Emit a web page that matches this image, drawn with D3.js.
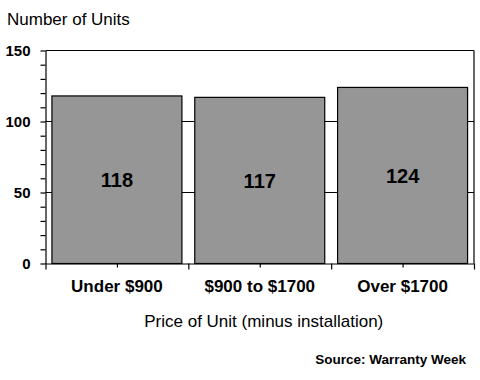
<!DOCTYPE html>
<html>
<head>
<meta charset="utf-8">
<script src="https://cdn.jsdelivr.net/npm/d3@7"></script>
<style>
  body { margin: 0; background: #fff; }
  svg { display: block; font-family: "Liberation Sans", Arial, sans-serif; }
  .tick line { stroke: #000; }
  .domain { stroke: #000; }
</style>
</head>
<body>
<svg width="480" height="380"></svg>
<script>
  // DATA
  const categories = ["Under $900", "$900 to $1700", "Over $1700"];
  const units = [118, 117, 124];
  const yTicks = [0, 50, 100, 150];
  const yMinorTicks = [10, 20, 30, 40, 60, 70, 80, 90, 110, 120, 130, 140];

  const svg = d3.select("svg");
  const margin = { top: 50.5, right: 6, bottom: 116.5, left: 45.5 };
  const width = +svg.attr("width");
  const height = +svg.attr("height");
  const innerWidth = width - margin.left - margin.right;
  const innerHeight = height - margin.top - margin.bottom;

  const g = svg.append("g")
    .attr("transform", `translate(${margin.left},${margin.top})`);

  // SCALES
  const xScale = d3.scaleBand()
    .domain(categories)
    .range([0, innerWidth])
    .paddingInner(0.09)
    .paddingOuter(0.045);

  const xEdge = d3.scaleLinear()
    .domain([0, categories.length])
    .range([0, innerWidth]);

  const yScale = d3.scaleLinear()
    .domain([0, 150])
    .range([innerHeight, 0]);

  // GRIDLINES + BORDER
  g.append("g")
    .selectAll("line")
    .data(yTicks.filter(d => d > 0))
    .join("line")
    .attr("x1", 0)
    .attr("x2", innerWidth)
    .attr("y1", d => Math.round(yScale(d)))
    .attr("y2", d => Math.round(yScale(d)))
    .attr("stroke", "#000")
    .attr("stroke-width", 1.2);

  g.append("line")
    .attr("x1", innerWidth).attr("x2", innerWidth)
    .attr("y1", 0).attr("y2", innerHeight)
    .attr("stroke", "#000")
    .attr("stroke-width", 1.2);

  // BARS
  g.selectAll("rect.bar")
    .data(units)
    .join("rect")
    .attr("class", "bar")
    .attr("x", (d, i) => xScale(categories[i]))
    .attr("y", d => yScale(d))
    .attr("width", xScale.bandwidth())
    .attr("height", d => innerHeight - yScale(d))
    .attr("fill", "#969696")
    .attr("stroke", "#000")
    .attr("stroke-width", 1.2);

  // VALUE LABELS
  g.selectAll("text.value")
    .data(units)
    .join("text")
    .attr("class", "value")
    .attr("x", (d, i) => xScale(categories[i]) + xScale.bandwidth() / 2)
    .attr("y", d => (yScale(d) + innerHeight) / 2)
    .attr("dy", "0.36em")
    .attr("text-anchor", "middle")
    .attr("font-size", 20)
    .attr("font-weight", "bold")
    .attr("fill", "#000")
    .text(d => d);

  // Y AXIS (minor ticks have no labels)
  const yMinorG = g.append("g")
    .call(d3.axisLeft(yScale).tickValues(yMinorTicks).tickSize(5));
  yMinorG.select(".domain").remove();
  yMinorG.selectAll("text").remove();

  const yAxisG = g.append("g")
    .call(d3.axisLeft(yScale).tickValues(yTicks).tickSize(5).tickSizeOuter(0).tickPadding(10));
  yAxisG.selectAll(".tick text")
    .attr("font-size", 15)
    .attr("font-weight", "bold")
    .attr("fill", "#000");
  yAxisG.selectAll("line, path").attr("stroke-width", 1.2);
  yMinorG.selectAll("line").attr("stroke-width", 1.2);

  // X AXIS: ticks at category edges and halfway
  const xMinorG = g.append("g")
    .attr("transform", `translate(0,${innerHeight})`)
    .call(d3.axisBottom(xEdge).tickValues([0.5, 1.5, 2.5]).tickSize(4));
  xMinorG.select(".domain").remove();
  xMinorG.selectAll("text").remove();

  const xAxisG = g.append("g")
    .attr("transform", `translate(0,${innerHeight})`)
    .call(d3.axisBottom(xEdge).tickValues([0, 1, 2, 3]).tickSize(6).tickSizeOuter(0));
  xAxisG.selectAll("text").remove();
  xAxisG.selectAll("line, path").attr("stroke-width", 1.2);
  xMinorG.selectAll("line").attr("stroke-width", 1.2);

  const xLabelG = g.append("g")
    .attr("transform", `translate(0,${innerHeight})`)
    .call(d3.axisBottom(xScale).tickSize(0).tickPadding(16.5));
  xLabelG.select(".domain").remove();
  xLabelG.selectAll(".tick text")
    .attr("font-size", 17)
    .attr("font-weight", "bold")
    .attr("fill", "#000");

  // TITLES
  svg.append("text")
    .attr("x", 7)
    .attr("y", 25)
    .attr("font-size", 17)
    .attr("fill", "#000")
    .text("Number of Units");

  svg.append("text")
    .attr("x", margin.left + innerWidth / 2 + 4)
    .attr("y", 327)
    .attr("text-anchor", "middle")
    .attr("font-size", 17)
    .attr("fill", "#000")
    .text("Price of Unit (minus installation)");

  svg.append("text")
    .attr("x", 466)
    .attr("y", 364)
    .attr("text-anchor", "end")
    .attr("font-size", 13.5)
    .attr("font-weight", "bold")
    .attr("fill", "#000")
    .text("Source: Warranty Week");
</script>
</body>
</html>
